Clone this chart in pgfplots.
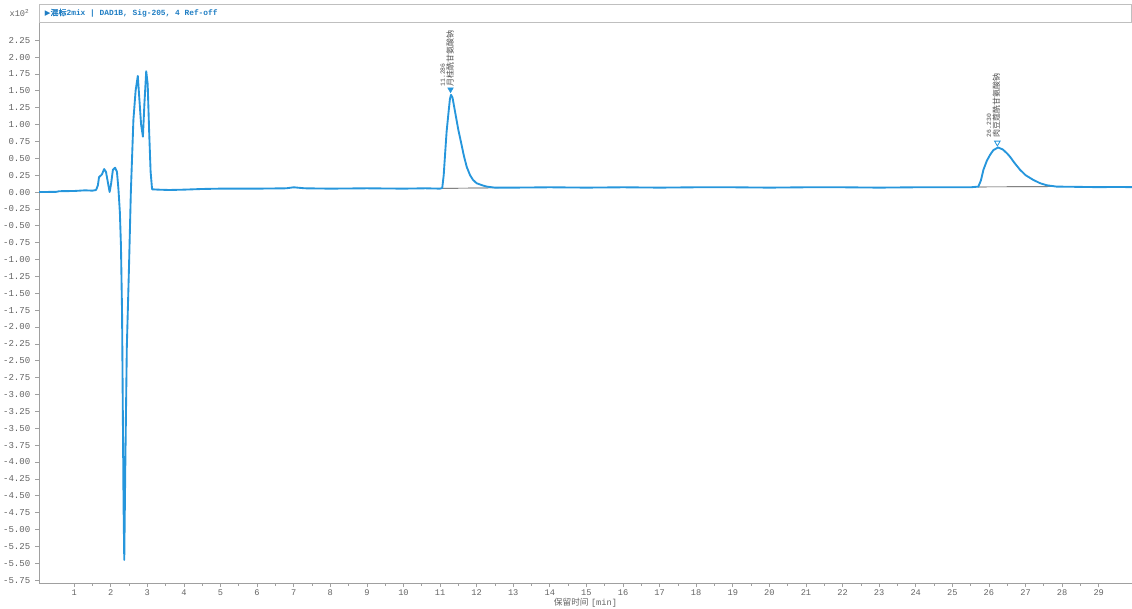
\documentclass[border=0pt]{standalone}
\usepackage{fontspec}
\setmainfont{Liberation Sans}
\setmonofont{Liberation Mono}
\newfontfamily\cjk{Noto Sans CJK SC}
\newfontfamily\cjkb[FakeBold=1.5]{Noto Sans CJK SC}
\newfontfamily\sym{DejaVu Sans}
\usepackage{pgfplots}
\pgfplotsset{compat=1.18}
\definecolor{lineblue}{RGB}{38,150,220}
\definecolor{titleblue}{RGB}{30,125,195}
\definecolor{tickgray}{RGB}{100,100,100}
\definecolor{axgray}{RGB}{160,160,160}
\begin{document}
\begin{tikzpicture}
\path[use as bounding box] (0,0) rectangle (849pt,456pt);
\begin{axis}[
  scale only axis,
  width=819.75pt, height=420.75pt,
  anchor=south west, at={(29.25pt,18.75pt)},
  xmin=0.04, xmax=29.91,
  ymin=-5.793, ymax=2.519,
  axis x line*=bottom, axis y line*=left,
  axis line style={draw=axgray, line width=0.6pt},
  xtick={1,2,...,29},
  minor x tick num=1,
  ytick={-5.75,-5.5,...,2.3},
  tick align=outside,
  major tick length=3pt, minor tick length=2pt,
  tick style={draw=axgray, line width=0.5pt},
  /pgf/number format/assume math mode=true,
  xticklabel style={font=\ttfamily\fontsize{6.5pt}{7pt}\selectfont, text=tickgray, yshift=1.8pt},
  yticklabel style={font=\ttfamily\fontsize{6.8pt}{7pt}\selectfont, text=tickgray, /pgf/number format/.cd, fixed, fixed zerofill, precision=2},
  xlabel={{\cjk 保留时间} {\ttfamily [min]}},
  xlabel style={at={(axis description cs:0.5,0)}, anchor=center, yshift=-15pt, font=\fontsize{6.5pt}{7pt}\selectfont, text=tickgray},
  clip=true,
]
% baseline segments under peaks
\addplot[draw=black!75, line width=0.5pt] coordinates {(11.05,0.055) (12.6,0.062)};
\addplot[draw=black!75, line width=0.5pt] coordinates {(25.70,0.075) (27.95,0.080)};
% chromatogram
\addplot[draw=lineblue, line width=1.4pt, line join=round] coordinates {
(0,0.000) (0.5,0.002) (0.6,0.012) (1.0,0.015) (1.3,0.025) (1.5,0.020) (1.6,0.030)
(1.65,0.10) (1.68,0.22) (1.72,0.24) (1.76,0.26) (1.82,0.34) (1.87,0.30) (1.92,0.15)
(1.97,0.00) (2.01,0.12) (2.06,0.33) (2.12,0.36) (2.17,0.30) (2.21,0.05) (2.25,-0.30)
(2.28,-0.80) (2.31,-1.80) (2.33,-3.20) (2.35,-4.60) (2.37,-5.45) (2.40,-4.00)
(2.44,-2.30) (2.50,-1.10) (2.55,0.00) (2.62,1.07) (2.68,1.50) (2.74,1.72)
(2.78,1.40) (2.83,1.00) (2.88,0.82) (2.92,1.30) (2.97,1.79) (3.01,1.60)
(3.05,0.90) (3.09,0.30) (3.13,0.04) (3.3,0.035) (3.6,0.030) (4.0,0.035)
(4.5,0.045) (5.0,0.05) (6.0,0.05) (6.8,0.055) (7.0,0.07) (7.3,0.055) (8.0,0.05)
(9.0,0.055) (10.0,0.05) (10.6,0.055) (11.0,0.05) (11.06,0.06) (11.10,0.25)
(11.14,0.58) (11.18,0.90) (11.23,1.17) (11.27,1.38) (11.30,1.44) (11.34,1.40)
(11.40,1.22) (11.45,1.07) (11.50,0.92) (11.58,0.72) (11.65,0.54) (11.73,0.37)
(11.82,0.25) (11.90,0.18) (12.0,0.13) (12.15,0.10) (12.28,0.08) (12.5,0.065)
(13.0,0.065) (14.0,0.07) (15.0,0.065) (16.0,0.07) (17.0,0.065) (18.0,0.07)
(19.0,0.07) (20.0,0.065) (21.0,0.07) (22.0,0.07) (23.0,0.065) (24.0,0.07)
(25.0,0.07) (25.5,0.07) (25.71,0.08) (25.78,0.17) (25.85,0.33) (25.94,0.46)
(26.03,0.55) (26.12,0.62) (26.25,0.66) (26.38,0.63) (26.50,0.57) (26.58,0.52)
(26.70,0.43) (26.85,0.33) (27.0,0.25) (27.21,0.18) (27.40,0.13) (27.58,0.10)
(27.85,0.08) (28.2,0.078) (29.0,0.072) (29.5,0.075) (29.91,0.072)
};
% peak markers
\addplot[only marks, mark=triangle*, mark size=2.4pt, mark options={rotate=180, fill=lineblue, draw=lineblue}] coordinates {(11.286,1.52)};
\addplot[only marks, mark=triangle, mark size=2.4pt, mark options={rotate=180, fill=white, draw=lineblue, line width=0.6pt}] coordinates {(26.230,0.73)};
% peak labels
\node[rotate=90, anchor=south west, align=left, inner sep=0pt, text=black!70, font=\fontsize{6pt}{6.2pt}\selectfont] at (axis cs:11.38,1.56) {{\ttfamily\fontsize{4.8pt}{6.2pt}\selectfont 11.286}\\{\cjk 月桂酰甘氨酸钠}};
\node[rotate=90, anchor=south west, align=left, inner sep=0pt, text=black!70, font=\fontsize{6pt}{6.2pt}\selectfont] at (axis cs:26.31,0.81) {{\ttfamily\fontsize{4.8pt}{6.2pt}\selectfont 26.230}\\{\cjk 肉豆蔻酰甘氨酸钠}};
\end{axis}
% title box
\draw[draw=black!25, line width=0.6pt] (29.25pt,439.5pt) rectangle (848.5pt,453pt);
\node[anchor=west, inner sep=0pt, text=titleblue] at (33.5pt,446.25pt) {{\sym\fontsize{5.5pt}{6pt}\selectfont ▶}{\cjkb\fontsize{6pt}{6pt}\selectfont 混标}{\ttfamily\bfseries\fontsize{5.9pt}{6pt}\selectfont 2mix | DAD1B, Sig-205, 4 Ref-off}};
\node[anchor=west, inner sep=0pt, text=tickgray] at (7pt,446.25pt) {\ttfamily\fontsize{6.5pt}{7pt}\selectfont x10\raisebox{2pt}{\fontsize{4.5pt}{5pt}\selectfont 2}};
\end{tikzpicture}
\end{document}
